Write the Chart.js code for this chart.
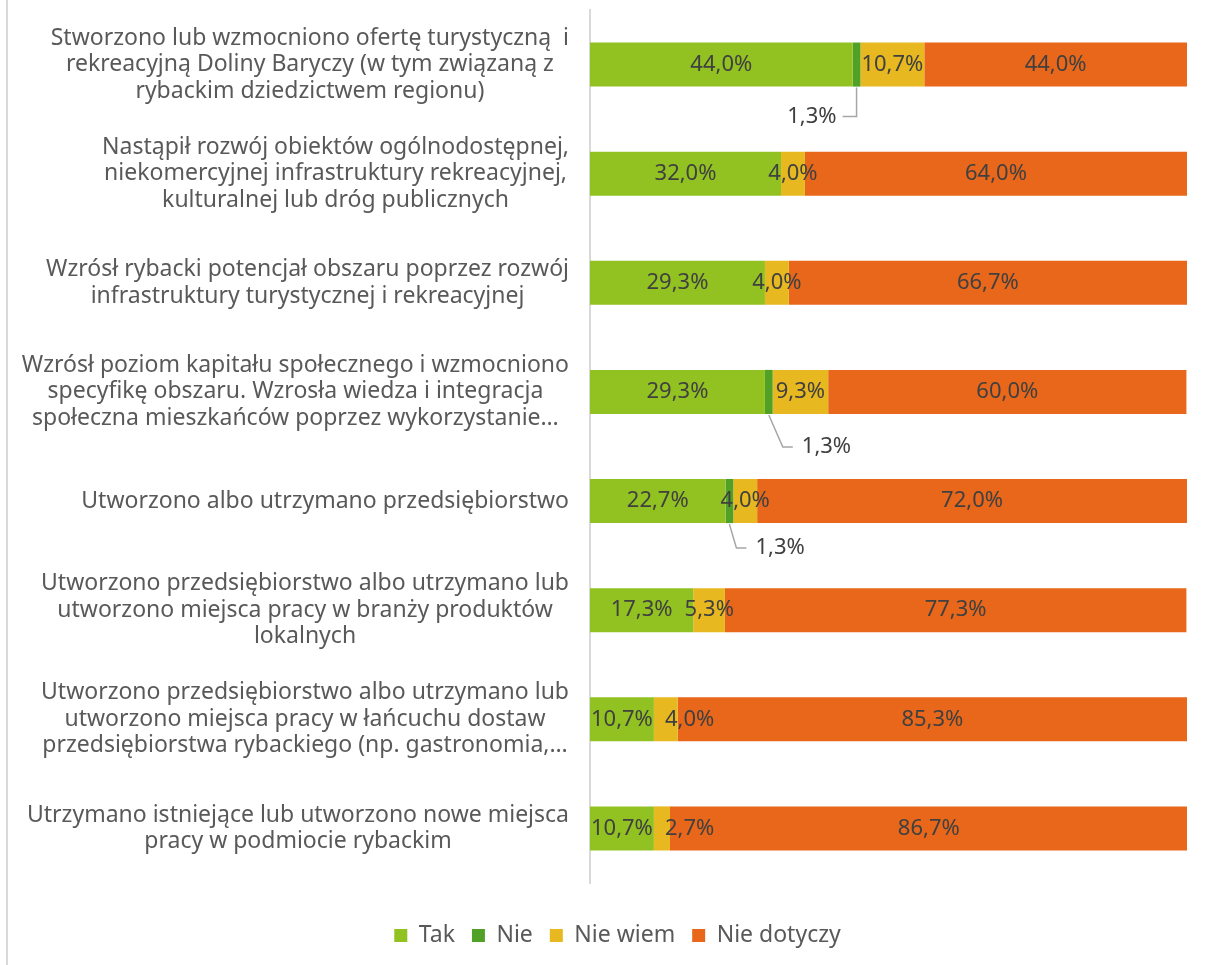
<!DOCTYPE html>
<html>
<head>
<meta charset="utf-8">
<script src="https://cdn.jsdelivr.net/npm/chart.js@4"></script>
<style>
  html, body { margin: 0; padding: 0; background: #fff; }
  #wrap { width: 1206px; height: 965px; position: relative; }
</style>
</head>
<body>
<div id="wrap"><canvas id="chart"></canvas></div>
<script>
// --- dane ---
const categories = [
  ['Stworzono lub wzmocniono ofertę turystyczną  i', 'rekreacyjną Doliny Baryczy (w tym związaną z', 'rybackim dziedzictwem regionu)'],
  ['Nastąpił rozwój obiektów ogólnodostępnej,', 'niekomercyjnej infrastruktury rekreacyjnej,', 'kulturalnej lub dróg publicznych'],
  ['Wzrósł rybacki potencjał obszaru poprzez rozwój', 'infrastruktury turystycznej i rekreacyjnej'],
  ['Wzrósł poziom kapitału społecznego i wzmocniono', 'specyfikę obszaru. Wzrosła wiedza i integracja', 'społeczna mieszkańców poprzez wykorzystanie…'],
  ['Utworzono albo utrzymano przedsiębiorstwo'],
  ['Utworzono przedsiębiorstwo albo utrzymano lub', 'utworzono miejsca pracy w branży produktów', 'lokalnych'],
  ['Utworzono przedsiębiorstwo albo utrzymano lub', 'utworzono miejsca pracy w łańcuchu dostaw', 'przedsiębiorstwa rybackiego (np. gastronomia,…'],
  ['Utrzymano istniejące lub utworzono nowe miejsca', 'pracy w podmiocie rybackim']
];
const seriesNames = ['Tak', 'Nie', 'Nie wiem', 'Nie dotyczy'];
const tak        = [44.0, 32.0, 29.3, 29.3, 22.7, 17.3, 10.7, 10.7];
const nie        = [1.3, 0, 0, 1.3, 1.3, 0, 0, 0];
const nieWiem    = [10.7, 4.0, 4.0, 9.3, 4.0, 5.3, 4.0, 2.7];
const nieDotyczy = [44.0, 64.0, 66.7, 60.0, 72.0, 77.3, 85.3, 86.7];

const colors = ['#92C122', '#51A126', '#E7B81F', '#E8671A'];
const FONT = '"Noto Sans", sans-serif';

// etykiety "1,3%" wyniesione pod słupek z linią odniesienia
const callouts = {
  0: { dy: 52, elbow: 0, len: 14, side: 'left' },
  3: { dy: 55, elbow: 14, len: 10, side: 'right' },
  4: { dy: 47, elbow: 7, len: 10, side: 'right' }
};

const fmt = v => v.toFixed(1).replace('.', ',') + '%';

// ramka po lewej stronie
const framePlugin = {
  id: 'frame',
  beforeDraw(chart) {
    const ctx = chart.ctx;
    ctx.save();
    ctx.fillStyle = '#D9D9D9';
    ctx.fillRect(6, 0, 2, chart.height);
    ctx.restore();
  }
};

// opisy kategorii: linie wyśrodkowane w bloku, blok dosunięty do osi
const catLabels = {
  id: 'catLabels',
  afterDraw(chart) {
    const ctx = chart.ctx;
    const y = chart.scales.y;
    const right = y.right - 21;
    ctx.save();
    ctx.font = '23px ' + FONT;
    ctx.fillStyle = '#595959';
    ctx.textAlign = 'center';
    ctx.textBaseline = 'middle';
    categories.forEach((lines, i) => {
      const cy = y.getPixelForTick(i);
      const w = Math.max(...lines.map(l => ctx.measureText(l).width));
      const cx = right - w / 2;
      lines.forEach((l, k) => {
        ctx.fillText(l, cx, cy + (k - (lines.length - 1) / 2) * 26.5);
      });
    });
    ctx.restore();
  }
};

// etykiety danych
const valueLabels = {
  id: 'valueLabels',
  afterDatasetsDraw(chart) {
    const ctx = chart.ctx;
    ctx.save();
    ctx.font = '22px ' + FONT;
    ctx.fillStyle = '#404040';
    ctx.textBaseline = 'middle';
    ctx.textAlign = 'left';
    const lastRight = {};
    chart.data.datasets.forEach((ds, di) => {
      const meta = chart.getDatasetMeta(di);
      meta.data.forEach((bar, i) => {
        const v = ds.data[i];
        if (!v) return;
        const cx = (bar.x + bar.base) / 2;
        const txt = fmt(v);
        const tw = ctx.measureText(txt).width;
        if (di === 1 && callouts[i]) {
          const c = callouts[i];
          const y0 = bar.y + bar.height / 2 + 1;
          const ty = bar.y + c.dy;
          const ex = cx + c.elbow;
          const lx = c.side === 'left' ? ex - c.len : ex + c.len;
          ctx.strokeStyle = '#A6A6A6';
          ctx.lineWidth = 1.5;
          ctx.beginPath();
          ctx.moveTo(cx, y0);
          ctx.lineTo(ex, ty);
          ctx.lineTo(lx, ty);
          ctx.stroke();
          ctx.fillText(txt, c.side === 'left' ? lx - 6 - tw : lx + 9, ty);
        } else {
          let x0 = cx - tw / 2;
          if (lastRight[i] !== undefined && x0 < lastRight[i] + 12) x0 = lastRight[i] + 12;
          ctx.fillText(txt, x0, bar.y);
          lastRight[i] = x0 + tw;
        }
      });
    });
    ctx.restore();
  }
};

const seriesData = [tak, nie, nieWiem, nieDotyczy];

new Chart(document.getElementById('chart'), {
  type: 'bar',
  data: {
    labels: categories,
    datasets: seriesNames.map((name, i) => ({
      label: name,
      data: seriesData[i],
      backgroundColor: colors[i],
      borderWidth: 0,
      barPercentage: 0.404,
      categoryPercentage: 1
    }))
  },
  plugins: [framePlugin, catLabels, valueLabels],
  options: {
    indexAxis: 'y',
    responsive: true,
    maintainAspectRatio: false,
    animation: false,
    layout: { padding: { top: 10, right: 19, bottom: 8, left: 48 } },
    scales: {
      x: {
        stacked: true,
        min: 0,
        max: 100,
        grid: { display: false },
        border: { display: false },
        ticks: { display: false },
        afterFit: s => { s.height = 24; }
      },
      y: {
        stacked: true,
        grid: { display: false },
        border: { display: true, color: '#D9D9D9', width: 2 },
        ticks: { display: false },
        afterFit: s => { s.width = 542; }
      }
    },
    plugins: {
      tooltip: { enabled: false },
      legend: {
        position: 'bottom',
        labels: {
          boxWidth: 13,
          boxHeight: 13,
          padding: 17,
          color: '#595959',
          font: { family: FONT, size: 23 }
        }
      }
    }
  }
});
</script>
</body>
</html>
